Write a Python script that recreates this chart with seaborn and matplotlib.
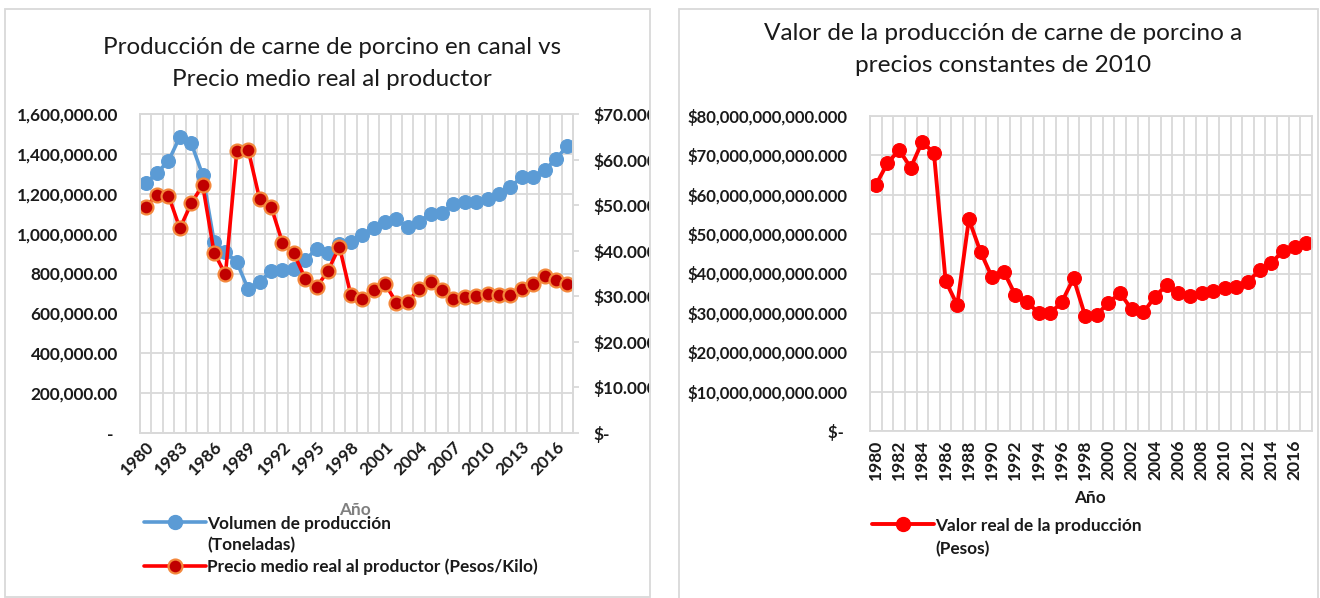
import numpy as np
import pandas as pd
import matplotlib
matplotlib.use("Agg")
import matplotlib.pyplot as plt
import seaborn as sns
from matplotlib.patches import Rectangle
from matplotlib.lines import Line2D
from matplotlib.transforms import Bbox, TransformedBbox

# ---------------- data ----------------
years = list(range(1980, 2018))
volumen = [1252000, 1306000, 1364000, 1486000, 1453000, 1294000, 960000, 909000,
           856000, 721000, 759000, 812000, 820000, 824000, 868000, 924000,
           904000, 948000, 960000, 993000, 1030000, 1060000, 1072000, 1032000,
           1060000, 1098000, 1105000, 1149000, 1160000, 1160000, 1174000, 1199000,
           1235000, 1282000, 1286000, 1319000, 1373000, 1441000]
precio = [49.7, 52.2, 52.1, 44.9, 50.4, 54.4, 39.6, 34.8,
          61.9, 62.1, 51.3, 49.7, 41.8, 39.4, 33.9, 32.0,
          35.6, 40.9, 30.3, 29.3, 31.4, 32.8, 28.6, 28.8,
          31.7, 33.2, 31.4, 29.3, 29.9, 30.0, 30.4, 30.3,
          30.3, 31.5, 32.7, 34.5, 33.6, 32.8]
valor = [62.5, 68.0, 71.4, 66.9, 73.5, 70.5, 38.1, 32.0,
         53.8, 45.5, 39.0, 40.5, 34.5, 32.8, 29.9, 29.9,
         32.8, 38.8, 29.2, 29.5, 32.6, 35.0, 30.9, 30.1,
         34.1, 37.1, 35.0, 34.3, 35.1, 35.6, 36.2, 36.6,
         37.9, 40.9, 42.6, 45.8, 46.7, 47.7]  # miles de millones de pesos
valor = [v * 1e9 for v in valor]

left_title = ["Producción de carne de porcino en canal vs", "Precio medio real al productor"]
right_title = ["Valor de la producción de carne de porcino a", "precios constantes de 2010"]
lbl_vol = ["Volumen de producción", "(Toneladas)"]
lbl_pre = "Precio medio real al productor (Pesos/Kilo)"
lbl_val = ["Valor real de la producción", "(Pesos)"]

df = pd.DataFrame({"idx": np.arange(len(years)), "year": years,
                   "volumen": volumen, "precio": precio, "valor": valor})

# ---------------- style ----------------
sns.set_theme(style="white")
plt.rcParams['font.family'] = ['Lato', 'DejaVu Sans']
GRID = '#d9d9d9'
TXT = '#1a1a1a'

W, H = 1320, 598
fig = plt.figure(figsize=(W / 100, H / 100), dpi=100)


def fx(x):
    return x / W


def fy(y):
    return 1 - y / H


# panel borders
for (x0, y0, x1, y1) in [(5, 9, 650, 597), (679, 9, 1318, 602)]:
    fig.patches.append(Rectangle((fx(x0), fy(y1)), (x1 - x0) / W, (y1 - y0) / H,
                                 transform=fig.transFigure, fill=False,
                                 ec=GRID, lw=1.3, zorder=0))

# titles
for i, yy in enumerate([47, 79]):
    fig.text(fx(332), fy(yy), left_title[i], ha='center', va='center',
             fontsize=17.4, color=TXT)
for i, yy in enumerate([33, 66]):
    fig.text(fx(1003), fy(yy), right_title[i], ha='center', va='center',
             fontsize=17.6, color=TXT)


def style_cat_axis(ax, n):
    ax.set_xlim(-0.5, n - 0.5)
    ax.set_xticks(np.arange(-0.5, n, 1), minor=True)
    ax.grid(False)
    ax.grid(which='minor', axis='x', color=GRID, lw=1.3)
    ax.grid(which='major', axis='y', color=GRID, lw=1.3)
    ax.tick_params(axis='x', which='both', length=0)
    for s in ax.spines.values():
        s.set_color(GRID)
        s.set_linewidth(1.3)


# ---------------- left chart ----------------
ax1 = fig.add_axes([fx(140), fy(433), 433 / W, 319 / H])
sns.lineplot(data=df, x="idx", y="volumen", ax=ax1, color='#5B9BD5', lw=2.6,
             marker='o', markersize=10, markeredgecolor='#5B9BD5',
             markerfacecolor='#5B9BD5', legend=False)
style_cat_axis(ax1, len(years))
ax1.set_ylim(0, 1600000)
yt = np.arange(0, 1600001, 200000)
ax1.set_yticks(yt)
ax1.set_yticklabels(["- " if v == 0 else f"{v:,.2f}" for v in yt],
                    fontsize=12.4, fontweight='bold', color=TXT)
ax1.tick_params(axis='y', length=0, pad=16)
xt = np.arange(0, len(years), 3)
ax1.set_xticks(xt)
ax1.set_xticklabels([str(years[i]) for i in xt], rotation=45, ha='right',
                    rotation_mode='anchor', fontsize=12.4, fontweight='bold', color=TXT)
ax1.tick_params(axis='x', pad=4)
ax1.set_xlabel("")
ax1.set_ylabel("")

ax2 = ax1.twinx()
sns.lineplot(data=df, x="idx", y="precio", ax=ax2, color='#FF0000', lw=2.6,
             marker='o', markersize=10, markerfacecolor='#C00000',
             markeredgecolor='#F4883C', markeredgewidth=1.6, legend=False)
ax2.set_ylim(0, 70)
ax2.set_xlim(-0.5, len(years) - 0.5)
yt2 = np.arange(0, 71, 10)
ax2.set_yticks(yt2)
ax2.set_yticklabels(["$-" if v == 0 else f"${v}.000" for v in yt2],
                    fontsize=12.4, fontweight='bold', color=TXT)
ax2.tick_params(axis='y', length=4, color=GRID, width=1.3, pad=11)
ax2.grid(False)
for s in ax2.spines.values():
    s.set_color(GRID)
    s.set_linewidth(1.3)
ax2.set_ylabel("")
ax2.set_xlabel("")
clip = TransformedBbox(Bbox.from_extents(0, 0, fx(649), 1), fig.transFigure)
for t in ax2.yaxis.get_major_ticks():
    t.label2.set_clip_box(clip)
    t.label2.set_clip_on(True)

fig.text(fx(355), fy(510), "Año", ha='center', va='center', fontsize=12.4,
         fontweight='bold', color='#7f7f7f')

h1 = Line2D([], [], color='#5B9BD5', lw=2.6, marker='o', markersize=10,
            markerfacecolor='#5B9BD5', markeredgecolor='#5B9BD5')
h2 = Line2D([], [], color='#FF0000', lw=2.6, marker='o', markersize=10,
            markerfacecolor='#C00000', markeredgecolor='#F4883C', markeredgewidth=1.6)
blank = Line2D([], [], lw=0, alpha=0)
leg1 = fig.legend([h1, blank, h2], [lbl_vol[0], lbl_vol[1], lbl_pre], loc='upper left',
                  bbox_to_anchor=(fx(128), fy(500)), frameon=False,
                  handlelength=3.6, handletextpad=0.1, labelspacing=0.3,
                  prop={'size': 12.4, 'weight': 'bold'})
for t in leg1.get_texts():
    t.set_color(TXT)

# ---------------- right chart ----------------
ax3 = fig.add_axes([fx(870), fy(431), 442 / W, 315 / H])
sns.lineplot(data=df, x="idx", y="valor", ax=ax3, color='#FF0000', lw=2.8,
             marker='o', markersize=10, markerfacecolor='#FF0000',
             markeredgecolor='#FF0000', legend=False)
style_cat_axis(ax3, len(years))
ax3.set_ylim(0, 80e9)
yt3 = np.arange(0, 80e9 + 1, 10e9)
ax3.set_yticks(yt3)
ax3.set_yticklabels(["$- " if v == 0 else f"${v:,.0f}.000" for v in yt3],
                    fontsize=12, fontweight='bold', color=TXT)
ax3.tick_params(axis='y', length=0, pad=16)
xt3 = np.arange(0, len(years), 2)
ax3.set_xticks(xt3)
ax3.set_xticklabels([str(years[i]) for i in xt3], rotation=90, ha='center',
                    va='top', fontsize=12.6, fontweight='bold', color=TXT)
ax3.tick_params(axis='x', pad=6)
ax3.set_xlabel("")
ax3.set_ylabel("")

fig.text(fx(1090), fy(498), "Año", ha='center', va='center', fontsize=12.4,
         fontweight='bold', color=TXT)

h3 = Line2D([], [], color='#FF0000', lw=2.8, marker='o', markersize=10,
            markerfacecolor='#FF0000', markeredgecolor='#FF0000')
leg3 = fig.legend([h3, blank], lbl_val, loc='upper left',
                  bbox_to_anchor=(fx(856), fy(502)), frameon=False,
                  handlelength=3.6, handletextpad=0.1, labelspacing=0.45,
                  prop={'size': 12.4, 'weight': 'bold'})
for t in leg3.get_texts():
    t.set_color(TXT)

fig.savefig("out.png", dpi=100)
